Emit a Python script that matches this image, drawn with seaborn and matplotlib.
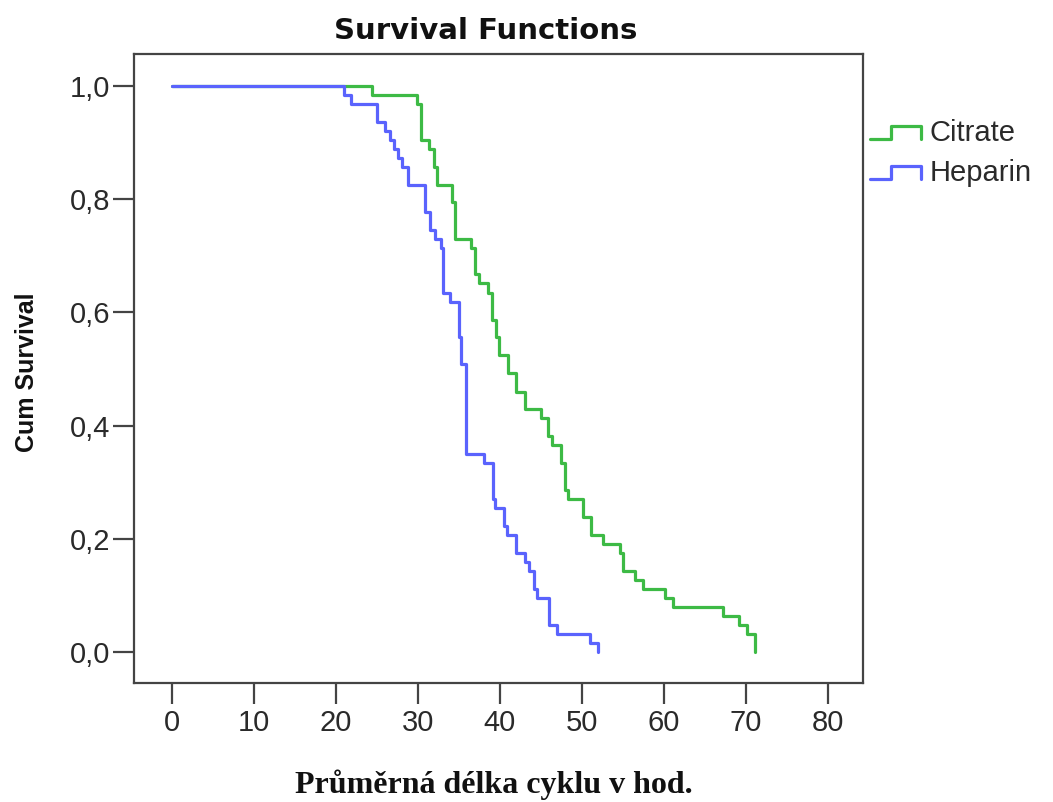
import numpy as np
import pandas as pd
import matplotlib
matplotlib.use("Agg")
import matplotlib.pyplot as plt
import seaborn as sns
from matplotlib.legend_handler import HandlerBase
from matplotlib.lines import Line2D

# ---- data (step start time, survival after the step) ----
citrate_time = [0, 24.4, 29.9, 30.4, 31.4, 31.9, 32.3, 34.1, 34.5, 36.5,
                37.0, 37.5, 38.6, 39.0, 39.5, 39.9, 41.0, 42.0, 43.0, 45.0,
                45.9, 46.4, 47.5, 47.9, 48.3, 50.1, 51.1, 52.6, 54.6, 55.0,
                56.5, 57.5, 60.1, 61.1, 67.2, 69.1, 70.1, 71.1]
citrate_surv = [1.0, 0.984, 0.968, 0.905, 0.889, 0.857, 0.825, 0.794, 0.730, 0.714,
                0.667, 0.651, 0.635, 0.587, 0.556, 0.524, 0.492, 0.460, 0.429, 0.413,
                0.381, 0.365, 0.333, 0.286, 0.270, 0.238, 0.206, 0.190, 0.175, 0.143,
                0.127, 0.111, 0.095, 0.079, 0.063, 0.048, 0.032, 0.0]

heparin_time = [0, 21.0, 21.8, 25.0, 26.0, 26.6, 27.1, 27.6, 28.0, 28.8,
                30.9, 31.5, 32.1, 32.8, 33.0, 33.9, 35.0, 35.3, 35.9, 38.0,
                39.1, 39.4, 40.5, 40.9, 42.0, 43.0, 43.6, 44.1, 44.5, 46.0,
                47.0, 51.0, 52.0]
heparin_surv = [1.0, 0.984, 0.968, 0.937, 0.921, 0.905, 0.889, 0.873, 0.857, 0.825,
                0.778, 0.746, 0.730, 0.714, 0.635, 0.619, 0.556, 0.508, 0.349, 0.333,
                0.270, 0.254, 0.222, 0.206, 0.175, 0.159, 0.143, 0.111, 0.095, 0.048,
                0.032, 0.016, 0.0]

groups = ["Citrate", "Heparin"]
colors = ["#3dba45", "#5a63fd"]
x_ticks = [0, 10, 20, 30, 40, 50, 60, 70, 80]
y_ticks = [0.0, 0.2, 0.4, 0.6, 0.8, 1.0]
y_tick_labels = ["0,0", "0,2", "0,4", "0,6", "0,8", "1,0"]

title = "Survival Functions"
x_label = "Průměrná délka cyklu v hod."
y_label = "Cum Survival"

df = pd.concat([
    pd.DataFrame({"time": citrate_time, "surv": citrate_surv, "group": groups[0]}),
    pd.DataFrame({"time": heparin_time, "surv": heparin_surv, "group": groups[1]}),
], ignore_index=True)

sns.set_theme(style="white")
plt.rcParams["font.family"] = ["Liberation Sans", "DejaVu Sans"]

fig = plt.figure(figsize=(10.53, 8.02), dpi=100)
ax = fig.add_axes([134 / 1053, 1 - 683 / 802, (863 - 134) / 1053, (683 - 54) / 802])

sns.lineplot(data=df, x="time", y="surv", hue="group", palette=dict(zip(groups, colors)),
             estimator=None, sort=False, drawstyle="steps-post", linewidth=2.3,
             legend=False, ax=ax)

ax.set_xlim(-4.63, 84.27)
ax.set_ylim(-0.0548, 1.0563)
ax.set_xticks(x_ticks)
ax.set_xticklabels([str(v) for v in x_ticks])
ax.set_yticks(y_ticks)
ax.set_yticklabels(y_tick_labels)
ax.tick_params(axis="both", direction="out", length=15, width=1.6, color="#444444",
               labelsize=21, labelcolor="#2a2a2a", left=True, bottom=True)
ax.tick_params(axis="y", pad=2)
ax.tick_params(axis="x", pad=4)
for s in ax.spines.values():
    s.set_color("#444444")
    s.set_linewidth(1.6)
ax.set_xlabel("")
ax.set_ylabel("")

fig.text(486 / 1053, 1 - 31 / 802, title, ha="center", va="center",
         fontsize=21, fontweight="bold", color="#111111",
         family=["DejaVu Sans"])
fig.text(27 / 1053, 1 - 372 / 802, y_label, ha="center", va="center", rotation=90,
         fontsize=18, fontweight="bold", color="#111111")
fig.text(494 / 1053, 1 - 785 / 802, x_label, ha="center", va="center",
         fontsize=23, fontweight="bold", color="#111111",
         family=["Liberation Serif", "DejaVu Serif"])


class StepHandler(HandlerBase):
    def create_artists(self, legend, orig_handle, xdescent, ydescent, width, height,
                       fontsize, trans):
        xs = np.array([0, 0.42, 0.42, 1.0, 1.0]) * width - xdescent
        ys = np.array([0.1, 0.1, 0.75, 0.75, 0.1]) * height - ydescent
        ln = Line2D(xs, ys, color=orig_handle.get_color(),
                    linewidth=orig_handle.get_linewidth())
        ln.set_transform(trans)
        return [ln]


handles = [Line2D([], [], color=c, linewidth=2.3) for c in colors]
fig.legend(handles, groups, loc="upper left", bbox_to_anchor=(870 / 1053, 1 - 119 / 802),
           frameon=False, fontsize=21, handlelength=1.75, handletextpad=0.28,
           labelspacing=0.42, borderaxespad=0, borderpad=0,
           handler_map={Line2D: StepHandler()}, labelcolor="#2a2a2a")

fig.savefig("out.png", dpi=100)
